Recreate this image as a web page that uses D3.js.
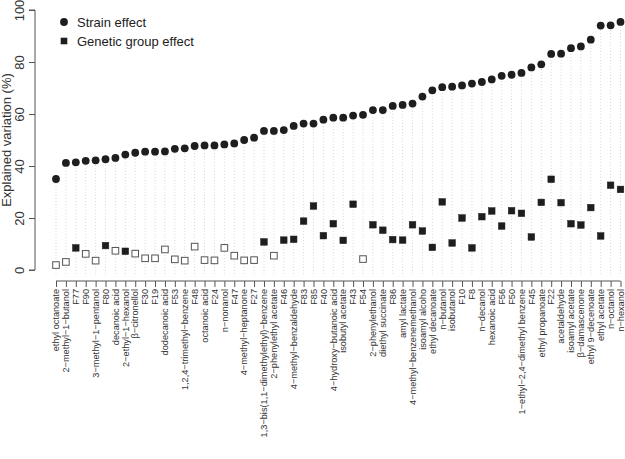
<!DOCTYPE html>
<html>
<head>
<meta charset="utf-8">
<script src="https://cdn.jsdelivr.net/npm/d3@7"></script>
<style>
  html, body { margin: 0; padding: 0; background: #fff; }
  svg { display: block; font-family: "Liberation Sans", Arial, Helvetica, sans-serif; }
</style>
</head>
<body>
<svg id="chart" width="625" height="459"></svg>
<script>
const categories = [
  "ethyl octanoate", "2−methyl−1−butanol", "F77", "F90", "3−methyl−1−pentanol", "F80",
  "decanoic acid", "2−ethyl−1−hexanol", "β−citronellol", "F30", "F19", "dodecanoic acid",
  "F53", "1,2,4−trimethyl−benzene", "F48", "octanoic acid", "F24", "n−nonanol", "F47",
  "4−methyl−heptanone", "F27", "1,3−bis(1,1−dimethylethyl)−benzene", "2−phenylethyl acetate",
  "F46", "4−methyl−benzaldehyde", "F83", "F85", "F40", "4−hydroxy−butanoic acid",
  "isobutyl acetate", "F43", "F54", "2−phenylethanol", "diethyl succinate", "F86",
  "amyl lactate", "4−methyl−benzenemethanol", "isoamyl alcoho", "ethyl decanoate",
  "n−butanol", "isobutanol", "F10", "F8", "n−decanol", "hexanoic acid", "F56", "F50",
  "1−ethyl−2,4−dimethyl benzene", "F45", "ethyl propanoate", "F22", "acetaldehyde",
  "isoamyl acetate", "β−damascenone", "ethyl 9−decenoate", "ethyl acetate", "n−octanol",
  "n−hexanol"
];
const strainEffect = [
  35.0, 41.2, 41.4, 42.0, 42.2, 42.6, 43.1, 44.4, 45.1, 45.5, 45.5, 45.6, 46.6, 46.8, 47.7,
  47.9, 47.9, 48.3, 48.7, 50.0, 50.9, 53.5, 53.5, 53.8, 55.4, 56.3, 56.3, 57.8, 58.6, 58.6,
  59.4, 59.7, 61.5, 61.5, 63.1, 63.5, 64.0, 66.7, 69.1, 70.3, 70.5, 71.0, 71.7, 72.3, 73.3,
  74.7, 75.1, 75.8, 77.9, 79.1, 83.1, 83.2, 85.3, 86.0, 88.6, 94.0, 94.1, 95.4
];
const geneticGroupEffect = [
  1.9, 3.1, 8.5, 6.2, 3.6, 9.4, 7.4, 7.2, 6.3, 4.5, 4.5, 7.9, 4.1, 3.6, 9.0, 3.8, 3.7,
  8.5, 5.5, 3.7, 3.8, 10.8, 5.5, 11.5, 11.8, 18.8, 24.6, 13.2, 17.8, 11.4, 25.3, 4.2,
  17.4, 15.3, 11.7, 11.5, 17.4, 15.0, 8.7, 26.2, 10.4, 20.0, 8.5, 20.5, 22.7, 16.9,
  22.8, 21.8, 12.7, 26.0, 34.9, 25.9, 17.8, 17.3, 24.0, 13.1, 32.6, 31.0
];
// true = filled square, false = open square
const geneticSignificant = [
  false, false, true, false, false, true, false, true, false, false, false, false, false,
  false, false, false, false, false, false, false, false, true, false, true, true, true,
  true, true, true, true, true, false, true, true, true, true, true, true, true, true,
  true, true, true, true, true, true, true, true, true, true, true, true, true, true,
  true, true, true, true
];
const yTicks = [0, 20, 40, 60, 80, 100];
const legendLabels = ["Strain effect", "Genetic group effect"];

const svg = d3.select("#chart");
const x = d3.scalePoint().domain(categories).range([56, 620.5]);
const y = d3.scaleLinear().domain([0, 100]).range([270, 10]);

const ink = "#1e1e1e";
const axisCol = "#555";

// dotted guide lines from 0 up to the strain value
svg.append("g").selectAll("line")
  .data(categories)
  .join("line")
  .attr("x1", d => x(d)).attr("x2", d => x(d))
  .attr("y1", y(0) + 4)
  .attr("y2", (d, i) => y(strainEffect[i]))
  .attr("stroke", "#cfcfcf")
  .attr("stroke-width", 0.8)
  .attr("stroke-dasharray", "1,2");

// Y axis
const yAxis = svg.append("g")
  .attr("transform", "translate(35,0)")
  .call(d3.axisLeft(y).tickValues(yTicks).tickSize(6));
yAxis.select(".domain").attr("stroke", axisCol).attr("d", `M-6,${y(0)}H0V${y(100)}H-6`);
yAxis.selectAll(".tick line").attr("stroke", axisCol);
yAxis.selectAll(".tick text")
  .attr("font-size", 13).attr("fill", "#333")
  .attr("x", 0).attr("y", 0).attr("dy", null)
  .attr("text-anchor", "middle")
  .attr("transform", "translate(-11,0) rotate(-90)");

svg.append("text")
  .attr("transform", `translate(11,${y(50)}) rotate(-90)`)
  .attr("text-anchor", "middle")
  .attr("font-size", 13)
  .attr("fill", "#333")
  .text("Explained variation (%)");

// X axis
const xAxis = svg.append("g")
  .attr("transform", "translate(0,281)")
  .call(d3.axisBottom(x).tickSize(6));
xAxis.select(".domain").attr("stroke", axisCol).attr("d", `M${x(categories[0])},0H${x(categories[categories.length - 1])}`);
xAxis.selectAll(".tick line").attr("stroke", axisCol);
xAxis.selectAll(".tick text")
  .attr("font-size", 9.2).attr("fill", "#333")
  .attr("text-anchor", "end")
  .attr("y", 0).attr("x", 0).attr("dy", "0.3em")
  .attr("transform", "translate(0,8) rotate(-90)");

// Strain effect points
svg.append("g").selectAll("circle")
  .data(strainEffect)
  .join("circle")
  .attr("cx", (d, i) => x(categories[i]))
  .attr("cy", d => y(d))
  .attr("r", 3.9)
  .attr("fill", ink);

// Genetic group effect squares
const s = 6.6;
svg.append("g").selectAll("rect")
  .data(geneticGroupEffect)
  .join("rect")
  .attr("x", (d, i) => x(categories[i]) - s / 2)
  .attr("y", d => y(d) - s / 2)
  .attr("width", s).attr("height", s)
  .attr("fill", (d, i) => geneticSignificant[i] ? ink : "#fff")
  .attr("stroke", (d, i) => geneticSignificant[i] ? ink : "#555")
  .attr("stroke-width", (d, i) => geneticSignificant[i] ? 0.5 : 1);

// Legend
const lg = svg.append("g");
lg.append("circle").attr("cx", 64).attr("cy", 22).attr("r", 3.9).attr("fill", ink);
lg.append("rect").attr("x", 64 - s / 2).attr("y", 41 - s / 2).attr("width", s).attr("height", s).attr("fill", ink);
lg.selectAll("text").data(legendLabels).join("text")
  .attr("x", 77).attr("y", (d, i) => 22 + i * 19)
  .attr("dy", "0.35em")
  .attr("font-size", 13).attr("fill", "#222")
  .text(d => d);
</script>
</body>
</html>
